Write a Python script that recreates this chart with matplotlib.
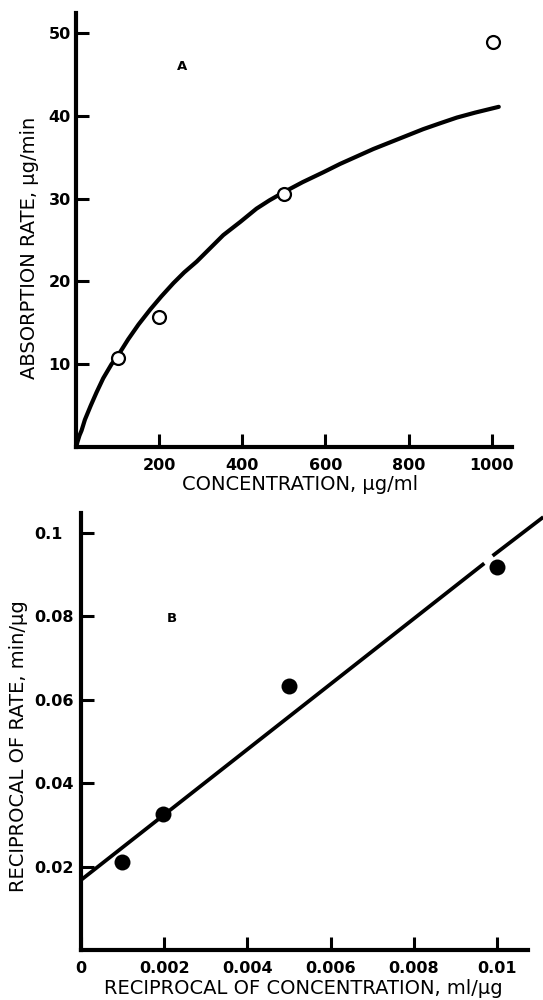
import matplotlib.pyplot as plt

plt.rcParams['font.family'] = ['DejaVu Sans']

# panel A: absorption rate vs concentration
conc_pts = [100, 200, 500, 1004]
rate_pts = [10.8, 15.7, 30.6, 48.9]
# fitted curve
conc_curve = [0, 3, 8, 13, 21, 35, 49, 65, 85, 100, 125, 150, 178, 205, 234, 260, 290, 320,
              354, 395, 434, 465, 500, 545, 595, 635, 675, 715, 755, 795, 835, 875, 916, 960, 1017]
rate_curve = [0, 0.6, 1.4, 2.0, 3.3, 5.0, 6.6, 8.3, 10.0, 11.0, 13.0, 14.8, 16.6, 18.2, 19.8, 21.1, 22.4, 23.9,
              25.6, 27.2, 28.8, 29.8, 30.8, 32.0, 33.2, 34.2, 35.1, 36.0, 36.8, 37.6, 38.4, 39.1, 39.8, 40.4, 41.1]
a_xticks = [200, 400, 600, 800, 1000]
a_yticks = [10, 20, 30, 40, 50]

# panel B: double reciprocal plot
inv_conc_pts = [0.00098, 0.00198, 0.00501, 0.01001]
inv_rate_pts = [0.0210, 0.0326, 0.0633, 0.0918]
# fitted line, drawn in two pieces (gap near the last point)
line1_x = [0, 0.0097]
line1_y = [0.0168, 0.0927]
line2_x = [0.0099, 0.01112]
line2_y = [0.0945, 0.1038]
b_xticks = [0, 0.002, 0.004, 0.006, 0.008, 0.01]
b_xlabels = ['0', '0.002', '0.004', '0.006', '0.008', '0.01']
b_yticks = [0.02, 0.04, 0.06, 0.08, 0.1]
b_ylabels = ['0.02', '0.04', '0.06', '0.08', '0.1']

fig = plt.figure(figsize=(5.43, 10), dpi=100)
axA = fig.add_axes([0.1403, 0.553, 0.8035, 0.4337])
axB = fig.add_axes([0.1494, 0.050, 0.8236, 0.4367])


def style(ax):
    for s in ['top', 'right']:
        ax.spines[s].set_visible(False)
    for s in ['left', 'bottom']:
        ax.spines[s].set_linewidth(3.0)
        ax.spines[s].set_capstyle('projecting')
    ax.tick_params(direction='in', length=9.5, width=2.2, labelsize=11.5)
    ax.tick_params(axis='x', pad=8)
    for lab in ax.get_xticklabels() + ax.get_yticklabels():
        lab.set_fontweight('bold')


axA.plot(conc_curve, rate_curve, color='black', lw=3.0, solid_capstyle='round', zorder=2)
axA.plot(conc_pts, rate_pts, 'o', ms=9.3, mfc='white', mec='black', mew=1.6, zorder=3, clip_on=False)
axA.set_xlim(0, 1050)
axA.set_ylim(0, 52.4)
axA.set_xticks(a_xticks)
axA.set_yticks(a_yticks)
axA.text(254, 46.0, 'A', fontsize=9.5, fontweight='bold', ha='center', va='center')
axA.set_xlabel('CONCENTRATION, \u03bcg/ml', fontsize=14, va='center')
axA.set_ylabel('ABSORPTION RATE, \u03bcg/min', fontsize=14, va='center', ha='center')
axA.xaxis.set_label_coords(0.512, -0.0876)
axA.yaxis.set_label_coords(-0.106, 0.46)
style(axA)
axA.tick_params(axis='y', pad=4)

axB.plot(line1_x, line1_y, color='black', lw=2.7, solid_capstyle='butt', zorder=2, clip_on=False)
axB.plot(line2_x, line2_y, color='black', lw=2.7, solid_capstyle='butt', zorder=2, clip_on=False)
axB.plot(inv_conc_pts, inv_rate_pts, 'o', ms=11.5, mew=0, color='black', zorder=3, clip_on=False)
axB.set_xlim(0, 0.01076)
axB.set_ylim(0, 0.1047)
axB.set_xticks(b_xticks)
axB.set_xticklabels(b_xlabels)
axB.set_yticks(b_yticks)
axB.set_yticklabels(b_ylabels)
axB.text(0.00217, 0.0795, 'B', fontsize=9.5, fontweight='bold', ha='center', va='center')
axB.set_xlabel('RECIPROCAL OF CONCENTRATION, ml/\u03bcg', fontsize=14, va='center')
axB.set_ylabel('RECIPROCAL OF RATE, min/\u03bcg', fontsize=14, va='center', ha='center')
axB.xaxis.set_label_coords(0.496, -0.0893)
axB.yaxis.set_label_coords(-0.141, 0.467)
style(axB)
axB.tick_params(axis='y', pad=34)
for lab in axB.get_yticklabels():
    lab.set_horizontalalignment('left')

fig.savefig('out.png', dpi=100)
